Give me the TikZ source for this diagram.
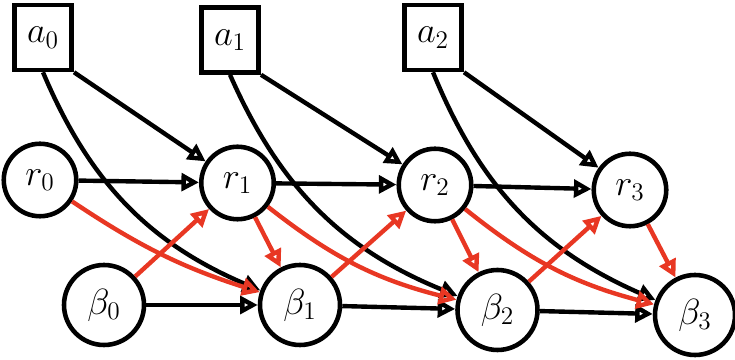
\documentclass[tikz,border=0pt]{standalone}
\usetikzlibrary{positioning}
\usetikzlibrary{arrows.meta}

\definecolor{linkred}{RGB}{232,55,35}

\tikzset{
  actbox/.style={rectangle, draw, line width=2.6pt, minimum width=1.15cm, minimum height=1.3cm, font=\huge},
  rnode/.style={circle, draw, line width=2.6pt, minimum size=1.45cm, font=\huge},
  bnode/.style={circle, draw, line width=2.6pt, minimum size=1.6cm, font=\huge},
  link/.style={line width=2.5pt, -{Triangle[open, length=10pt, width=10pt]}},
  redlink/.style={link, draw=linkred}
}

\begin{document}
\begin{tikzpicture}

    \useasboundingbox (0,0) rectangle (14.7,-7.2);

    % Nodes
    \node[actbox] (a0) at (0.86,-0.75) {$a_0$};
    \node[actbox] (a1) at (4.6,-0.8) {$a_1$};
    \node[actbox] (a2) at (8.66,-0.75) {$a_2$};

    \node[rnode] (r0) at (0.8,-3.6) {$r_0$};
    \node[rnode] (r1) at (4.75,-3.66) {$r_1$};
    \node[rnode] (r2) at (8.7,-3.7) {$r_2$};
    \node[rnode] (r3) at (12.6,-3.8) {$r_3$};

    \node[bnode] (b0) at (2.08,-6.1) {$\beta_0$};
    \node[bnode] (b1) at (6.0,-6.1) {$\beta_1$};
    \node[bnode] (b2) at (9.95,-6.2) {$\beta_2$};
    \node[bnode] (b3) at (13.9,-6.3) {$\beta_3$};

    % Actions
    \draw[link] (a0.south east) -- (r1);
    \draw[link] (a0.south) to[bend right=22] (b1);
    \draw[link] (a1.south east) -- (r2);
    \draw[link] (a1.south) to[bend right=22] (b2);
    \draw[link] (a2.south east) -- (r3);
    \draw[link] (a2.south) to[bend right=22] (b3);

    % Chains
    \draw[link] (r0) -- (r1);
    \draw[link] (r1) -- (r2);
    \draw[link] (r2) -- (r3);
    \draw[link] (b0) -- (b1);
    \draw[link] (b1) -- (b2);
    \draw[link] (b2) -- (b3);

    % Cross links
    \draw[redlink] (r0) to[bend right=8] (b1);
    \draw[redlink] (b0) -- (r1);
    \draw[redlink] (r1) -- (b1);
    \draw[redlink] (r1) to[bend right=12] (b2);
    \draw[redlink] (b1) -- (r2);
    \draw[redlink] (r2) -- (b2);
    \draw[redlink] (r2) to[bend right=12] (b3);
    \draw[redlink] (b2) -- (r3);
    \draw[redlink] (r3) -- (b3);

\end{tikzpicture}
\end{document}
